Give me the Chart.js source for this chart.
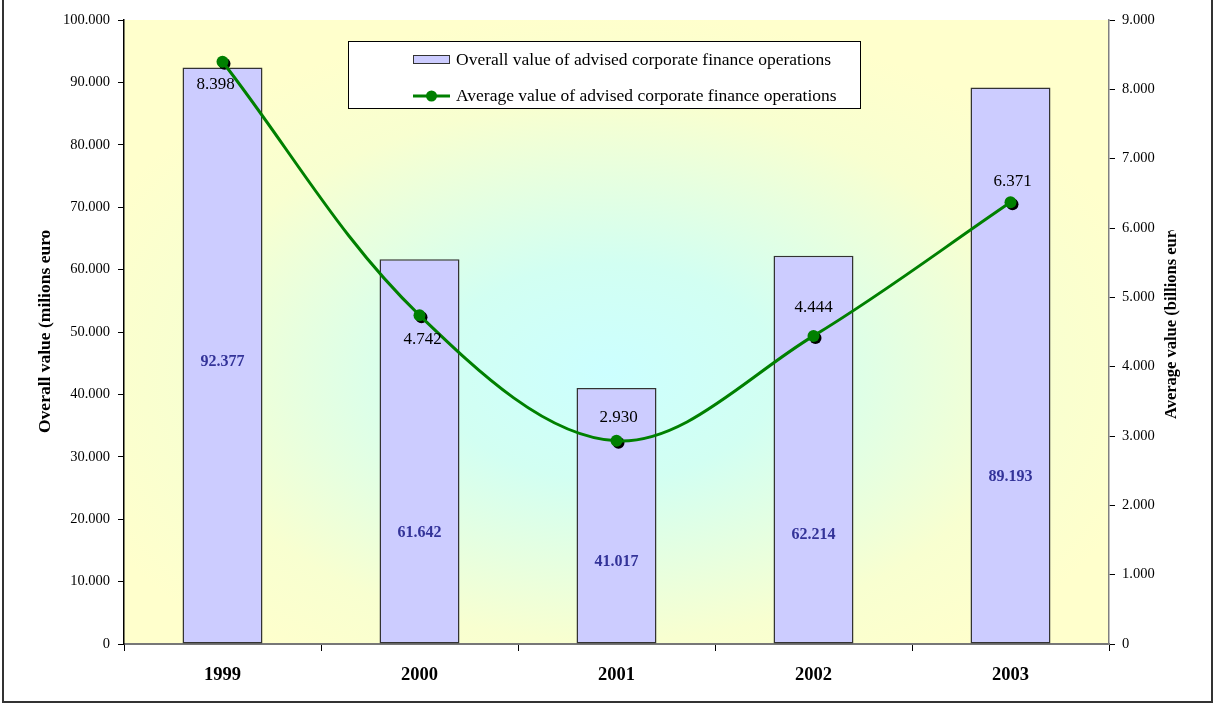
<!DOCTYPE html>
<html>
<head>
<meta charset="utf-8">
<script src="https://cdn.jsdelivr.net/npm/chart.js@4/dist/chart.umd.min.js"></script>
<style>
  html, body { margin: 0; padding: 0; background: #fff; }
  #wrap { width: 1215px; height: 704px; position: relative; }
</style>
</head>
<body>
<div id="wrap"><canvas id="corp-finance" width="1215" height="704"></canvas></div>
<script>
// values in thousands, shown with a dot as thousands separator
const years = ['1999', '2000', '2001', '2002', '2003'];
const overallValue = [92377, 61642, 41017, 62214, 89193];
const averageValue = [8398, 4742, 2930, 4444, 6371];
const overallLabel = 'Overall value of advised corporate finance operations';
const averageLabel = 'Average value of advised corporate finance operations';
const leftTitle = 'Overall value (milions euro';
const rightTitle = 'Average value (billions euro';

// where the value labels sit
const barLabelLift = [0.49, 0.29, 0.32, 0.28, 0.30];
const lineLabelShift = [[-7, 23], [3, 24], [2, -23], [0, -28], [2, -21]];

const serif = '"Liberation Serif", "Times New Roman", serif';

function dotted(n) {
    if (n === 0) return '0';
    let s = String(Math.round(n));
    return s.replace(/\B(?=(\d{3})+(?!\d))/g, '.');
}

const decorations = {
    id: 'decorations',
    beforeDraw(chart) {
        const {ctx, chartArea: a} = chart;
        const cx = (a.left + a.right) / 2 - 10, cy = (a.top + a.bottom) / 2 + 40;
        const rx = (a.right - a.left) / 2, ry = (a.bottom - a.top) / 2;
        ctx.save();
        ctx.beginPath();
        ctx.rect(a.left, a.top, a.right - a.left, a.bottom - a.top);
        ctx.clip();
        ctx.translate(cx, cy);
        ctx.scale(rx / ry, 1);
        const g = ctx.createRadialGradient(0, 0, 0, 0, 0, ry * 1.15);
        g.addColorStop(0, '#ccffff');
        g.addColorStop(0.3, '#d2fff2');
        g.addColorStop(0.75, '#f8ffd0');
        g.addColorStop(1, '#ffffcc');
        ctx.fillStyle = g;
        ctx.fillRect(-ry * 2, -ry * 2, ry * 4, ry * 4);
        ctx.restore();
    },
    beforeDatasetDraw(chart, args) {
        if (args.index !== 1) return;
        const ctx = chart.ctx;
        ctx.save();
        ctx.fillStyle = '#000';
        chart.getDatasetMeta(1).data.forEach((pt) => {
            ctx.beginPath();
            ctx.arc(pt.x + 2, pt.y + 2, 6, 0, Math.PI * 2);
            ctx.fill();
        });
        ctx.restore();
    },
    afterDatasetsDraw(chart) {
        const ctx = chart.ctx;
        const yAxis = chart.scales.y;
        ctx.save();
        ctx.textAlign = 'center';
        ctx.textBaseline = 'middle';

        ctx.font = 'bold 16px ' + serif;
        ctx.fillStyle = '#333399';
        chart.getDatasetMeta(0).data.forEach((bar, i) => {
            const y = yAxis.bottom - (yAxis.bottom - bar.y) * barLabelLift[i];
            ctx.fillText(dotted(overallValue[i]), bar.x, y);
        });

        ctx.font = '17px ' + serif;
        ctx.fillStyle = '#000';
        chart.getDatasetMeta(1).data.forEach((pt, i) => {
            ctx.fillText(dotted(averageValue[i]), pt.x + lineLabelShift[i][0], pt.y + lineLabelShift[i][1]);
        });

        // legend box
        ctx.fillStyle = '#fff';
        ctx.strokeStyle = '#000';
        ctx.lineWidth = 1;
        ctx.fillRect(348.5, 41.5, 512, 67);
        ctx.strokeRect(348.5, 41.5, 512, 67);

        ctx.fillStyle = '#ccccff';
        ctx.strokeStyle = '#333';
        ctx.fillRect(413.5, 55.5, 36, 8);
        ctx.strokeRect(413.5, 55.5, 36, 8);

        ctx.strokeStyle = '#008000';
        ctx.lineWidth = 3;
        ctx.beginPath();
        ctx.moveTo(413, 96);
        ctx.lineTo(450, 96);
        ctx.stroke();
        ctx.fillStyle = '#008000';
        ctx.beginPath();
        ctx.arc(431.5, 96, 5.5, 0, Math.PI * 2);
        ctx.fill();

        ctx.fillStyle = '#000';
        ctx.textAlign = 'left';
        ctx.font = '17.5px ' + serif;
        ctx.fillText(chart.data.datasets[0].label, 456, 60);
        ctx.fillText(chart.data.datasets[1].label, 456, 96);
        ctx.restore();
    },
    afterDraw(chart) {
        const ctx = chart.ctx;
        ctx.save();
        ctx.fillStyle = '#000';
        ctx.textBaseline = 'middle';
        ctx.textAlign = 'left';

        // axis titles, cut off at the top like the original export
        ctx.save();
        ctx.font = 'bold 17.5px ' + serif;
        ctx.beginPath();
        ctx.rect(0, 227, 120, 300);
        ctx.clip();
        ctx.translate(45, 433);
        ctx.rotate(-Math.PI / 2);
        ctx.fillText(leftTitle, 0, 0);
        ctx.restore();

        ctx.save();
        ctx.font = 'bold 16.5px ' + serif;
        ctx.beginPath();
        ctx.rect(1140, 230, 70, 300);
        ctx.clip();
        ctx.translate(1172, 419);
        ctx.rotate(-Math.PI / 2);
        ctx.fillText(rightTitle, 0, 0);
        ctx.restore();

        // outer frame
        ctx.strokeStyle = '#333';
        ctx.lineWidth = 2;
        ctx.beginPath();
        ctx.moveTo(3, -2);
        ctx.lineTo(3, 702);
        ctx.lineTo(1212, 702);
        ctx.lineTo(1212, -2);
        ctx.stroke();
        ctx.restore();
    }
};

const ctx = document.getElementById('corp-finance').getContext('2d');
window.corpFinanceChart = new Chart(ctx, {
    type: 'bar',
    data: {
        labels: years,
        datasets: [
            {
                type: 'bar',
                label: overallLabel,
                data: overallValue,
                yAxisID: 'y',
                backgroundColor: '#ccccff',
                borderColor: '#333333',
                borderWidth: 1.5,
                borderSkipped: false,
                categoryPercentage: 1,
                barPercentage: 0.406,
                order: 2
            },
            {
                type: 'line',
                label: averageLabel,
                data: averageValue,
                yAxisID: 'y1',
                borderColor: '#008000',
                borderWidth: 3,
                tension: 0.35,
                pointRadius: 6,
                pointBackgroundColor: '#008000',
                pointBorderWidth: 0,
                order: 1
            }
        ]
    },
    options: {
        responsive: false,
        animation: false,
        layout: { padding: { top: 20, left: 0, right: 0, bottom: 0 } },
        plugins: {
            legend: { display: false },
            tooltip: { enabled: false }
        },
        scales: {
            x: {
                offset: true,
                afterFit: (scale) => { scale.height = 60; },
                grid: {
                    offset: true,
                    drawOnChartArea: false,
                    tickLength: 7,
                    color: '#000'
                },
                border: { color: '#777', width: 2 },
                ticks: {
                    color: '#000',
                    padding: 13,
                    font: { family: serif, size: 18.5, weight: 'bold' }
                }
            },
            y: {
                position: 'left',
                min: 0,
                max: 100000,
                afterFit: (scale) => { scale.width = 124; },
                grid: { drawOnChartArea: false, tickLength: 6, color: '#000' },
                border: { color: '#000', width: 1.5 },
                ticks: {
                    stepSize: 10000,
                    color: '#000',
                    padding: 8,
                    font: { family: serif, size: 14.5 },
                    callback: (v) => dotted(v)
                }
            },
            y1: {
                position: 'right',
                min: 0,
                max: 9000,
                afterFit: (scale) => { scale.width = 106; },
                grid: { drawOnChartArea: false, tickLength: 6, color: '#000' },
                border: { color: '#808080', width: 1.5 },
                ticks: {
                    stepSize: 1000,
                    color: '#000',
                    padding: 7,
                    font: { family: serif, size: 14.5 },
                    callback: (v) => dotted(v)
                }
            }
        }
    },
    plugins: [decorations]
});
</script>
</body>
</html>
